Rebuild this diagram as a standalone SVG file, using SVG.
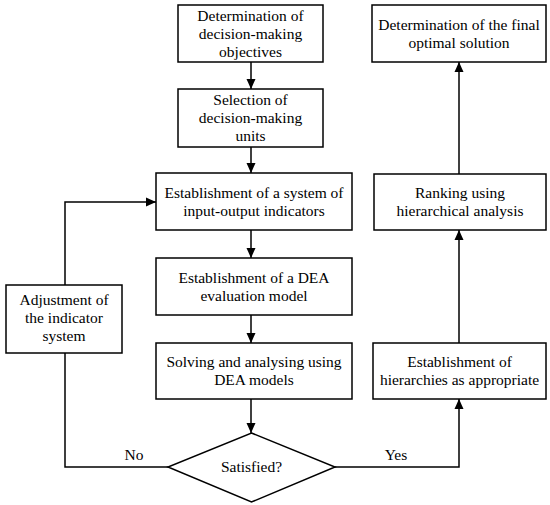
<svg xmlns="http://www.w3.org/2000/svg" width="550" height="505" viewBox="0 0 550 505">
<defs>
<marker id="ah" viewBox="0 0 10 10" refX="10" refY="5" markerWidth="10" markerHeight="10" markerUnits="userSpaceOnUse" orient="auto">
<path d="M0,0.5 L10,5 L0,9.5 Z" fill="#000"/>
</marker>
<style>
rect, polygon { fill: #fff; stroke: #000; stroke-width: 1.5; }
.c { fill: none; stroke: #000; stroke-width: 1.5; }
text { font-family: 'Liberation Serif', 'DejaVu Serif', serif; font-size: 15.5px; fill: #000; text-anchor: middle; }
</style>
</defs>
<rect x="0" y="0" width="550" height="505" style="fill:#fff;stroke:none"/>
<g font-family="Liberation Serif, DejaVu Serif, serif">
<g id="connectors">
<path class="c" d="M251,62 V89" marker-end="url(#ah)"/>
<path class="c" d="M251,147 V173" marker-end="url(#ah)"/>
<path class="c" d="M251,230 V258" marker-end="url(#ah)"/>
<path class="c" d="M251,315 V343" marker-end="url(#ah)"/>
<path class="c" d="M251,399 V433" marker-end="url(#ah)"/>
<path class="c" d="M168,467 H65 V353"/>
<path class="c" d="M65,285 V202 H156" marker-end="url(#ah)"/>
<path class="c" d="M335,467 H459 V399" marker-end="url(#ah)"/>
<path class="c" d="M459,343 V230" marker-end="url(#ah)"/>
<path class="c" d="M459,174 V62" marker-end="url(#ah)"/>
<text x="134" y="460">No</text>
<text x="396" y="460">Yes</text>
</g>
<g id="n1">
<rect x="178" y="5" width="145" height="57"/>
<text x="250.5" y="21">Determination of</text>
<text x="250.5" y="39">decision-making</text>
<text x="250.5" y="57">objectives</text>
</g>
<g id="n2">
<rect x="178" y="89" width="145" height="58"/>
<text x="250.5" y="105">Selection of</text>
<text x="250.5" y="123">decision-making</text>
<text x="250.5" y="141">units</text>
</g>
<g id="n3">
<rect x="156" y="173" width="196" height="57"/>
<text x="254" y="198">Establishment of a system of</text>
<text x="254" y="216">input-output indicators</text>
</g>
<g id="n4">
<rect x="156" y="258" width="196" height="57"/>
<text x="254" y="283">Establishment of a DEA</text>
<text x="254" y="301">evaluation model</text>
</g>
<g id="n5">
<rect x="156" y="343" width="196" height="56"/>
<text x="254" y="367">Solving and analysing using</text>
<text x="254" y="385">DEA models</text>
</g>
<g id="n6">
<polygon points="251.5,433 335,467 251.5,502 168,467"/>
<text x="251.5" y="472">Satisfied?</text>
</g>
<g id="n7">
<rect x="6" y="285" width="116" height="68"/>
<text x="64" y="305">Adjustment of</text>
<text x="64" y="323">the indicator</text>
<text x="64" y="341">system</text>
</g>
<g id="n8">
<rect x="373" y="343" width="173" height="56"/>
<text x="459.5" y="367">Establishment of</text>
<text x="459.5" y="385">hierarchies as appropriate</text>
</g>
<g id="n9">
<rect x="374" y="174" width="172" height="56"/>
<text x="460" y="198">Ranking using</text>
<text x="460" y="216">hierarchical analysis</text>
</g>
<g id="n10">
<rect x="372" y="5" width="174" height="57"/>
<text x="459" y="30">Determination of the final</text>
<text x="459" y="48">optimal solution</text>
</g>
</g>
</svg>
